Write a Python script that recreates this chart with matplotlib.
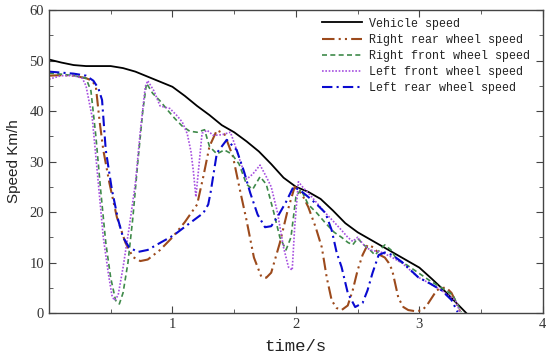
import matplotlib
matplotlib.use("Agg")
import matplotlib.pyplot as plt
from matplotlib.ticker import MultipleLocator

# ---------------- data ----------------
veh_t = [0, 0.1, 0.2, 0.3, 0.4, 0.5, 0.6, 0.7, 0.8, 0.9, 1.0, 1.1, 1.2, 1.3, 1.4, 1.5,
         1.6, 1.7, 1.8, 1.9, 2.0, 2.1, 2.2, 2.3, 2.4, 2.5, 2.6, 2.7, 2.8, 2.9, 3.0,
         3.1, 3.2, 3.3, 3.38]
veh_v = [50.2, 49.6, 49.1, 48.9, 48.9, 48.9, 48.5, 47.8, 46.8, 45.8, 44.8, 43.0, 41.0,
         39.2, 37.2, 35.8, 34.0, 32.0, 29.5, 26.8, 25.0, 24.0, 22.6, 20.3, 17.8, 16.0,
         14.6, 13.2, 11.8, 10.4, 9.0, 6.8, 4.5, 2.0, 0.0]

rr_t = [0, 0.1, 0.2, 0.3, 0.35, 0.38, 0.41, 0.44, 0.49, 0.55, 0.62, 0.68, 0.74, 0.8, 0.9,
        1.0, 1.1, 1.2, 1.25, 1.3, 1.36, 1.42, 1.49, 1.55, 1.6, 1.66, 1.72, 1.76, 1.8,
        1.87, 1.93, 1.99, 2.05, 2.1, 2.16, 2.21, 2.25, 2.29, 2.33, 2.37, 2.42, 2.46,
        2.5, 2.54, 2.58, 2.63, 2.68, 2.72, 2.75, 2.78, 2.83, 2.87, 2.91, 2.96, 3.02,
        3.06, 3.1, 3.14, 3.18, 3.22, 3.26, 3.3, 3.33]
rr_v = [47.0, 47.1, 47.0, 46.5, 46.0, 44.8, 38.0, 32.3, 25.7, 19.0, 13.9, 11.1, 10.3,
        10.6, 12.5, 15.0, 18.0, 21.5, 27.0, 33.0, 36.2, 35.5, 31.0, 24.0, 18.4, 11.0,
        7.2, 7.0, 8.0, 13.9, 20.0, 25.0, 23.5, 21.0, 17.0, 13.0, 7.0, 2.5, 1.0, 0.6,
        1.5, 4.5, 8.5, 11.5, 13.5, 13.0, 11.5, 11.0, 10.0, 8.5, 3.0, 1.2, 0.6, 0.4,
        0.5, 1.5, 3.0, 4.5, 5.0, 5.0, 4.0, 2.0, 0.3]

rf_t = [0, 0.1, 0.2, 0.3, 0.34, 0.38, 0.42, 0.46, 0.5, 0.54, 0.57, 0.6, 0.64, 0.68,
        0.72, 0.76, 0.79, 0.84, 0.9, 0.96, 1.02, 1.08, 1.14, 1.2, 1.26, 1.3, 1.36,
        1.42, 1.48, 1.54, 1.6, 1.65, 1.71, 1.76, 1.82, 1.87, 1.92, 1.96, 2.0, 2.04,
        2.1, 2.17, 2.24, 2.31, 2.37, 2.42, 2.46, 2.5, 2.55, 2.6, 2.64, 2.68, 2.72,
        2.77, 2.82, 2.9, 2.99, 3.08, 3.18, 3.27, 3.34]
rf_v = [47.5, 47.3, 47.0, 46.5, 44.0, 35.0, 24.0, 14.0, 7.0, 2.5, 1.8, 4.0, 10.0, 19.0,
        30.0, 40.0, 45.5, 43.5, 42.0, 40.2, 38.5, 37.0, 36.0, 35.8, 36.3, 33.0, 31.5,
        32.3, 31.5, 29.5, 25.5, 24.5, 27.0, 25.5, 20.0, 15.0, 12.5, 15.0, 23.0, 24.5,
        21.5, 19.8, 17.8, 16.0, 15.0, 14.0, 13.5, 14.8, 13.5, 12.5, 11.5, 12.5, 13.5,
        12.5, 10.5, 9.5, 8.0, 6.5, 5.0, 3.6, 0.2]

lf_t = [0, 0.1, 0.2, 0.27, 0.3, 0.35, 0.4, 0.44, 0.48, 0.51, 0.53, 0.56, 0.6, 0.65,
        0.7, 0.74, 0.78, 0.8, 0.85, 0.9, 0.98, 1.04, 1.08, 1.12, 1.15, 1.17, 1.19,
        1.21, 1.24, 1.28, 1.33, 1.4, 1.47, 1.51, 1.55, 1.6, 1.65, 1.71, 1.76, 1.8,
        1.85, 1.9, 1.94, 1.97, 1.99, 2.02, 2.06, 2.1, 2.17, 2.24, 2.31, 2.37, 2.42,
        2.46, 2.5, 2.55, 2.6, 2.7, 2.78, 2.86, 2.99, 3.09, 3.18, 3.25, 3.29, 3.33]
lf_v = [46.3, 47.0, 47.0, 46.5, 45.0, 38.8, 25.7, 15.0, 8.0, 3.5, 2.5, 3.5, 9.0, 17.0,
        25.7, 36.0, 44.8, 46.0, 44.0, 41.0, 40.5, 39.0, 37.8, 35.5, 32.0, 28.0, 23.0,
        28.0, 35.6, 36.2, 35.2, 35.3, 35.8, 33.0, 30.0, 26.5, 27.5, 29.3, 27.0, 25.0,
        20.0, 13.0, 9.1, 8.5, 17.0, 26.0, 24.8, 23.8, 21.8, 19.8, 18.0, 16.4, 15.0,
        14.2, 15.0, 13.5, 12.5, 12.0, 11.0, 9.9, 7.1, 5.8, 4.5, 3.2, 2.6, 0.2]

lr_t = [0, 0.1, 0.2, 0.3, 0.36, 0.4, 0.43, 0.46, 0.51, 0.56, 0.6, 0.65, 0.72, 0.8, 0.9,
        1.01, 1.14, 1.25, 1.29, 1.31, 1.36, 1.44, 1.52, 1.58, 1.63, 1.69, 1.75, 1.8,
        1.85, 1.92, 1.98, 2.04, 2.1, 2.17, 2.24, 2.29, 2.33, 2.37, 2.42, 2.48, 2.54,
        2.58, 2.62, 2.67, 2.72, 2.78, 2.86, 2.99, 3.09, 3.18, 3.26, 3.31]
lr_v = [47.8, 47.6, 47.4, 47.0, 46.0, 44.5, 42.2, 32.3, 24.4, 18.5, 15.0, 13.0, 12.1,
        12.5, 13.9, 15.4, 17.8, 19.8, 21.5, 24.0, 31.7, 34.3, 32.3, 28.0, 23.8, 19.5,
        17.0, 17.2, 19.0, 22.0, 25.0, 24.2, 23.0, 21.5, 19.8, 16.4, 12.0, 9.1, 4.0,
        1.2, 2.0, 4.5, 7.9, 11.5, 12.0, 11.5, 10.1, 7.1, 5.8, 4.5, 2.6, 0.2]

labels = ["Vehicle speed", "Right rear wheel speed", "Right front wheel speed",
          "Left front wheel speed", "Left rear wheel speed"]
x_ticks = [1, 2, 3, 4]
y_ticks = [0, 10, 20, 30, 40, 50, 60]

# ---------------- figure ----------------
plt.rcParams["font.family"] = ["Liberation Serif", "DejaVu Serif"]

fig = plt.figure(figsize=(5.5, 3.57), dpi=100)
ax = fig.add_axes([0.089, 0.123, 0.898, 0.849])

ax.plot(veh_t, veh_v, color="black", lw=1.3, label=labels[0])
ax.plot(rr_t, rr_v, color="#9c4a1c", lw=1.5, dashes=(6, 2, 1, 2, 1, 2), label=labels[1])
ax.plot(rf_t, rf_v, color="#3f8a4a", lw=1.2, dashes=(3, 2), label=labels[2])
ax.plot(lf_t, lf_v, color="#a64fe0", lw=1.2, dashes=(1, 1), label=labels[3])
ax.plot(lr_t, lr_v, color="#0a0ad0", lw=1.5, dashes=(5, 2, 1, 2), label=labels[4])

ax.set_xlim(0, 4)
ax.set_ylim(0, 60)
ax.set_xticks(x_ticks)
ax.set_yticks(y_ticks)
ax.xaxis.set_minor_locator(MultipleLocator(0.5))
ax.yaxis.set_minor_locator(MultipleLocator(5))
ax.tick_params(which="both", direction="in", top=True, right=True, labelsize=10.5,
               colors="#444444", labelcolor="#333333")
ax.tick_params(which="major", length=5)
ax.tick_params(which="minor", length=3)
for sp in ax.spines.values():
    sp.set_color("#444444")
    sp.set_linewidth(1.0)

ax.set_xlabel("time/s", family="Liberation Mono", fontsize=12.5, color="#222222", labelpad=6)
ax.set_ylabel("Speed Km/h", family="Liberation Sans", fontsize=11, color="#222222", labelpad=6)

leg = ax.legend(loc="upper left", bbox_to_anchor=(0.553, 0.975), frameon=False,
                prop={"family": "Liberation Mono", "size": 8.4},
                handlelength=3.4, handletextpad=0.65, labelspacing=0.36, borderpad=0,
                borderaxespad=0)
for t in leg.get_texts():
    t.set_color("#222222")

fig.savefig("out.png", dpi=100)
